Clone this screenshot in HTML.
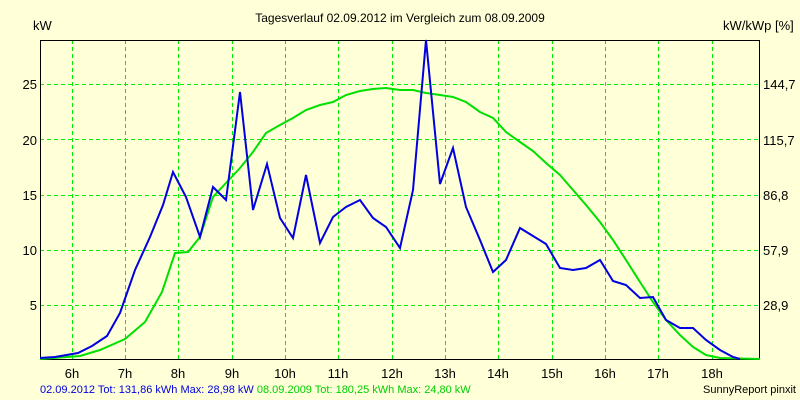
<!DOCTYPE html>
<html><head><style>body{margin:0;background:#ffffd8}svg{display:block}text{font-family:"Liberation Sans",sans-serif}</style></head>
<body>
<svg width="800" height="400" viewBox="0 0 800 400">
<rect width="800" height="400" fill="#ffffd8"/>
<g stroke="#00ee00" stroke-width="1" stroke-dasharray="4,3">
<line x1="40" x2="759" y1="84.5" y2="84.5"/><line x1="40" x2="759" y1="139.5" y2="139.5"/><line x1="40" x2="759" y1="195.5" y2="195.5"/><line x1="40" x2="759" y1="250.5" y2="250.5"/><line x1="40" x2="759" y1="305.5" y2="305.5"/>
<line x1="72.5" x2="72.5" y1="40" y2="359"/><line x1="125.5" x2="125.5" y1="40" y2="359"/><line x1="178.5" x2="178.5" y1="40" y2="359"/><line x1="232.5" x2="232.5" y1="40" y2="359"/><line x1="285.5" x2="285.5" y1="40" y2="359"/><line x1="338.5" x2="338.5" y1="40" y2="359"/><line x1="392.5" x2="392.5" y1="40" y2="359"/><line x1="445.5" x2="445.5" y1="40" y2="359"/><line x1="498.5" x2="498.5" y1="40" y2="359"/><line x1="552.5" x2="552.5" y1="40" y2="359"/><line x1="605.5" x2="605.5" y1="40" y2="359"/><line x1="658.5" x2="658.5" y1="40" y2="359"/><line x1="712.5" x2="712.5" y1="40" y2="359"/>
</g>
<rect x="40.5" y="40.5" width="719" height="319" fill="none" stroke="#000" stroke-width="1"/>
<polyline fill="none" stroke="#00e000" stroke-width="2" points="40,359 80,356 100,350 125,339 145,322 162,292 175,253 188,252 200,237 213,197 226,183 240,168 253,152 266,133 280,125 293,118 306,110 320,105 333,102 346,95 360,91 373,89 386,88 400,90 413,90 426,93 440,95 453,97 466,102 480,112 493,118 506,132 520,142 533,151 546,163 560,175 573,190 586,205 600,222 613,240 626,260 640,282 653,302 666,320 680,335 693,347 706,355 720,358 760,359"/>
<polyline fill="none" stroke="#0000e0" stroke-width="2" points="40,358 55,357 78,353 92,346 107,336 120,313 135,270 150,237 163,205 173,172 186,197 200,237 213,187 226,200 240,92 253,210 267,164 280,218 293,238 306,175 320,243 333,217 346,207 360,200 373,218 386,227 400,248 413,190 426,40 440,184 453,148 466,207 480,240 493,272 506,260 520,228 533,236 546,244 560,268 573,270 586,268 600,260 613,281 626,285 640,298 653,297 666,320 680,328 693,328 706,340 720,350 733,357 740,359"/>
<g font-size="13" fill="#000">
<text x="33" y="30">kW</text>
<text x="723" y="30">kW/kWp [%]</text>
<text x="400" y="22" text-anchor="middle" font-size="12">Tagesverlauf 02.09.2012 im Vergleich zum 08.09.2009</text>
<g text-anchor="end"><text x="37" y="89">25</text><text x="37" y="145">20</text><text x="37" y="200">15</text><text x="37" y="255">10</text><text x="37" y="310">5</text></g>
<text x="763" y="89">144,7</text><text x="763" y="145">115,7</text><text x="763" y="200">86,8</text><text x="763" y="255">57,9</text><text x="763" y="310">28,9</text>
<g text-anchor="middle"><text x="72" y="378">6h</text><text x="125" y="378">7h</text><text x="178" y="378">8h</text><text x="232" y="378">9h</text><text x="285" y="378">10h</text><text x="338" y="378">11h</text><text x="392" y="378">12h</text><text x="445" y="378">13h</text><text x="498" y="378">14h</text><text x="552" y="378">15h</text><text x="605" y="378">16h</text><text x="658" y="378">17h</text><text x="712" y="378">18h</text></g>
</g>
<text x="40" y="393" font-size="11" fill="#0000e0">02.09.2012 Tot: 131,86 kWh Max: 28,98 kW <tspan fill="#00d000">08.09.2009 Tot: 180,25 kWh Max: 24,80 kW</tspan></text>
<text x="796" y="393" font-size="11" text-anchor="end" fill="#000">SunnyReport pinxit</text>
</svg>
</body></html>
